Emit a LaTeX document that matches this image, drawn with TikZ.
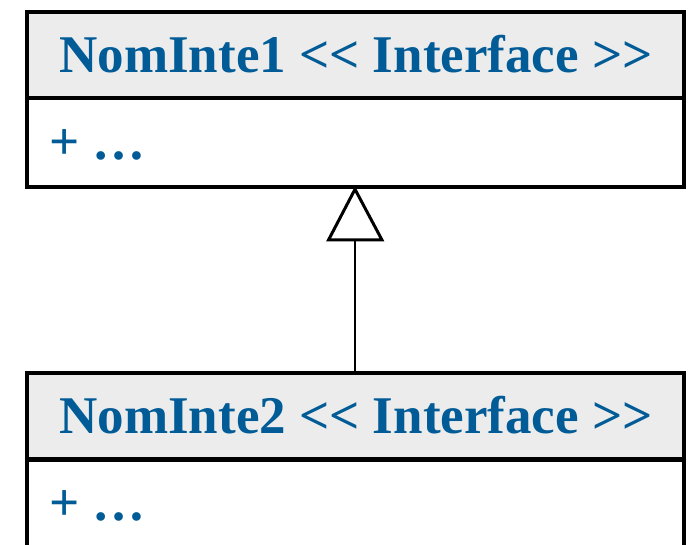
\documentclass[tikz,border=0pt]{standalone}
\usepackage{fontspec}
\setmainfont{Liberation Serif}[Ligatures=TeXOff]
\definecolor{umlblue}{HTML}{005B96}
\definecolor{hdrgray}{HTML}{ECECEC}
\begin{document}
\begin{tikzpicture}[x=1pt,y=-1pt,
  hdrbox/.style={draw=black,line width=4pt,fill=hdrgray,minimum width=657.5pt,minimum height=86pt,inner sep=0pt},
  bodybox/.style={draw=black,line width=4pt,fill=white,minimum width=657.5pt,minimum height=89pt,inner sep=0pt},
  hdrtext/.style={text=umlblue,font=\fontsize{53}{60}\selectfont\bfseries,anchor=base,inner sep=0pt},
  bodytext/.style={text=umlblue,font=\fontsize{53}{60}\selectfont\bfseries,anchor=base west,inner sep=0pt},
  inherit/.style={line width=1.5pt}]
\useasboundingbox (0,0) rectangle (689,545);
% top class
\node[bodybox] (b1) at (355.25,142.75) {};
\node[hdrbox] (h1) at (355.25,55) {};
\node[hdrtext] (t1) at (356,73) {NomInte1 << Interface >>};
\node[bodytext] (a1) at (49,160) {+ …};
% bottom class
\node[bodybox] (b2) at (355.25,504.5) {};
\node[hdrbox] (h2) at (355.25,416.5) {};
\node[hdrtext] (t2) at (356,434) {NomInte2 << Interface >>};
\node[bodytext] (a2) at (49,521) {+ …};
% generalization
\coordinate (apex) at (b1.south -| 355,0);
\coordinate (base) at (355,240);
\draw[inherit] (h2.north -| base) -- (base);
\draw[line width=3pt,fill=white,line join=miter] (apex) -- (328.5,240) -- (382,240) -- cycle;
\end{tikzpicture}
\end{document}
